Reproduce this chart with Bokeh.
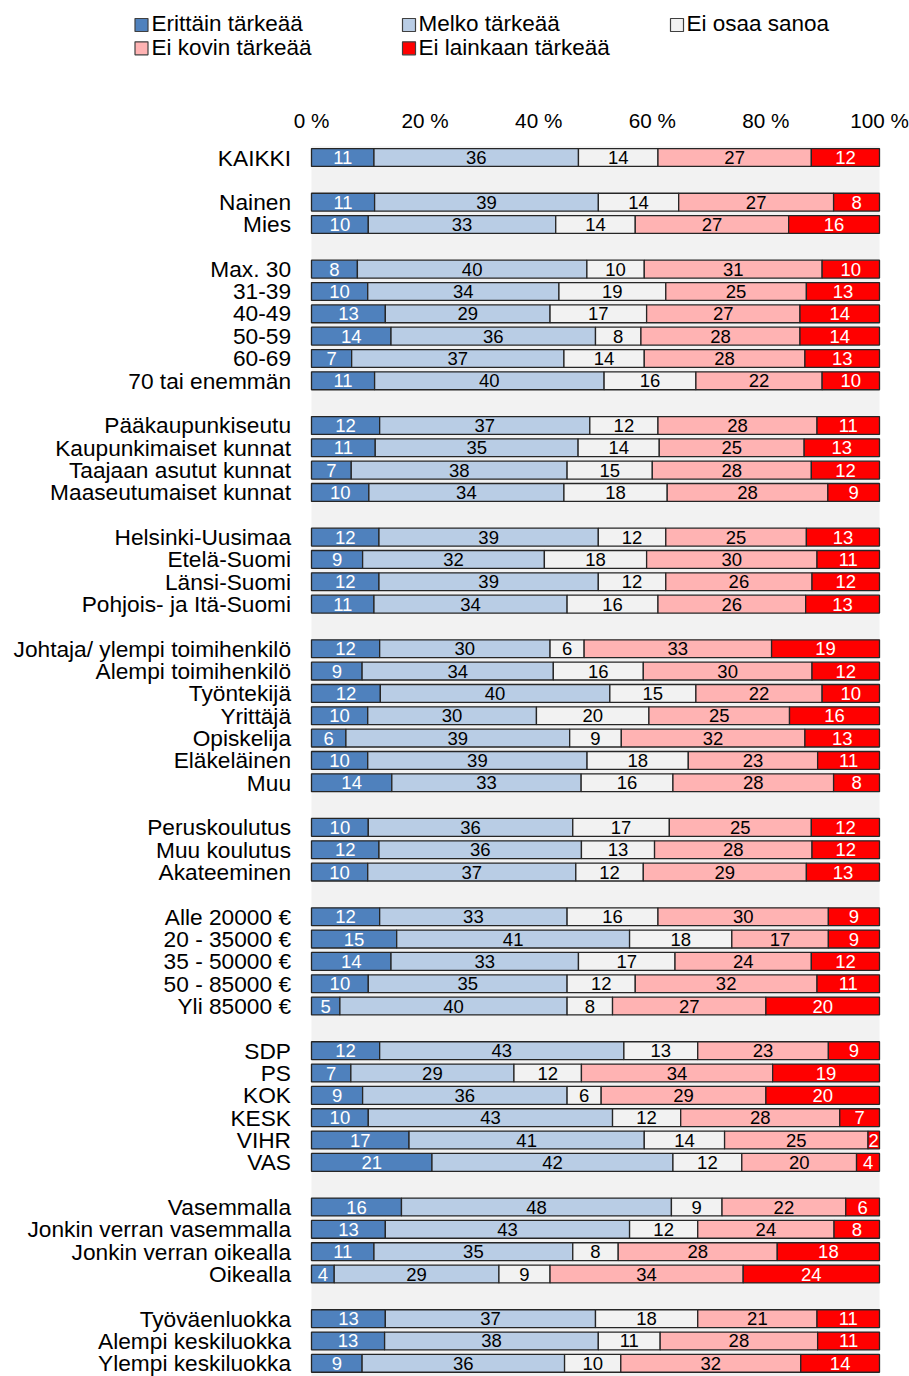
import numpy as np
from bokeh.plotting import figure
from bokeh.models import ColumnDataSource, Range1d
from bokeh.core.properties import value
from bokeh.embed import file_html
from bokeh.resources import INLINE

# ---------------- data ----------------
categories = [
    "KAIKKI",
    "Nainen", "Mies",
    "Max. 30", "31-39", "40-49", "50-59", "60-69", "70 tai enemmän",
    "Pääkaupunkiseutu", "Kaupunkimaiset kunnat", "Taajaan asutut kunnat", "Maaseutumaiset kunnat",
    "Helsinki-Uusimaa", "Etelä-Suomi", "Länsi-Suomi", "Pohjois- ja Itä-Suomi",
    "Johtaja/ ylempi toimihenkilö", "Alempi toimihenkilö", "Työntekijä", "Yrittäjä",
    "Opiskelija", "Eläkeläinen", "Muu",
    "Peruskoulutus", "Muu koulutus", "Akateeminen",
    "Alle 20000 €", "20 - 35000 €", "35 - 50000 €", "50 - 85000 €", "Yli 85000 €",
    "SDP", "PS", "KOK", "KESK", "VIHR", "VAS",
    "Vasemmalla", "Jonkin verran vasemmalla", "Jonkin verran oikealla", "Oikealla",
    "Työväenluokka", "Alempi keskiluokka", "Ylempi keskiluokka",
]
group_sizes = [1, 2, 6, 4, 4, 7, 3, 5, 6, 4, 3]

erittain = [11, 11, 10, 8, 10, 13, 14, 7, 11, 12, 11, 7, 10, 12, 9, 12, 11,
            12, 9, 12, 10, 6, 10, 14, 10, 12, 10, 12, 15, 14, 10, 5,
            12, 7, 9, 10, 17, 21, 16, 13, 11, 4, 13, 13, 9]
melko = [36, 39, 33, 40, 34, 29, 36, 37, 40, 37, 35, 38, 34, 39, 32, 39, 34,
         30, 34, 40, 30, 39, 39, 33, 36, 36, 37, 33, 41, 33, 35, 40,
         43, 29, 36, 43, 41, 42, 48, 43, 35, 29, 37, 38, 36]
ei_osaa = [14, 14, 14, 10, 19, 17, 8, 14, 16, 12, 14, 15, 18, 12, 18, 12, 16,
           6, 16, 15, 20, 9, 18, 16, 17, 13, 12, 16, 18, 17, 12, 8,
           13, 12, 6, 12, 14, 12, 9, 12, 8, 9, 18, 11, 10]
ei_kovin = [27, 27, 27, 31, 25, 27, 28, 28, 22, 28, 25, 28, 28, 25, 30, 26, 26,
            33, 30, 22, 25, 32, 23, 28, 25, 28, 29, 30, 17, 24, 32, 27,
            23, 34, 29, 28, 25, 20, 22, 24, 28, 34, 21, 28, 32]
ei_lainkaan = [12, 8, 16, 10, 13, 14, 14, 13, 10, 11, 13, 12, 9, 13, 11, 12, 13,
               19, 12, 10, 16, 13, 11, 8, 12, 12, 13, 9, 9, 12, 11, 20,
               9, 19, 20, 7, 2, 4, 6, 8, 18, 24, 11, 11, 14]

series_names = ["Erittäin tärkeää", "Melko tärkeää", "Ei osaa sanoa",
                "Ei kovin tärkeää", "Ei lainkaan tärkeää"]
series_values = [erittain, melko, ei_osaa, ei_kovin, ei_lainkaan]
colors = ["#4f81bd", "#b9cde5", "#f2f2f2", "#ffb3b3", "#ff0000"]
label_colors = ["#ffffff", "#000000", "#000000", "#000000", "#ffffff"]

tick_values = [0, 20, 40, 60, 80, 100]
tick_labels = ["0 %", "20 %", "40 %", "60 %", "80 %", "100 %"]

# ---------------- layout (pixels) ----------------
W, H = 909, 1376
X0_PX = 311.0          # pixel of 0 %
X_SCALE = 5.68         # pixels per percent
Y0_PX = 157.0          # pixel of first row centre
SLOT_PX = 22.33        # pixels per row slot
FONT = value("Liberation Sans")

def fx(px):
    return (px - X0_PX) / X_SCALE

def fy(px):
    return (px - Y0_PX) / SLOT_PX

# slot positions (with an empty slot between groups)
slots = []
s = 0
for g in group_sizes:
    for _ in range(g):
        slots.append(s)
        s += 1
    s += 1
slots = np.array(slots, dtype=float)
n_slots = s - 1

vals = np.array(series_values, dtype=float)          # (5, n)
totals = vals.sum(axis=0)
pct = vals / totals * 100.0
cum = np.cumsum(pct, axis=0)
starts = cum - pct

p = figure(width=W, height=H,
           x_range=Range1d(fx(0), fx(W)),
           y_range=Range1d(fy(H), fy(0)),
           x_axis_location=None, y_axis_location=None,
           toolbar_location=None, output_backend="svg",
           min_border=0, outline_line_color=None,
           background_fill_color="white", border_fill_color="white")
p.xgrid.grid_line_color = None
p.ygrid.grid_line_color = None

# plot-area background
p.quad(left=[tick_values[0]], right=[tick_values[-1]], top=[-0.5], bottom=[n_slots + 1.5],
       fill_color="#f2f2f2", line_color=None)

# stacked bars and labels
for j in range(len(series_names)):
    src = ColumnDataSource(dict(
        y=slots, left=starts[j], right=cum[j],
        mid=(starts[j] + cum[j]) / 2.0,
        txt=[str(v) for v in series_values[j]],
    ))
    p.hbar(y="y", left="left", right="right", height=0.8, source=src,
           fill_color=colors[j], line_color="#262626", line_width=1.3)
    p.text(x="mid", y="y", text="txt", source=src,
           text_align="center", text_baseline="alphabetic", y_offset=0,
           text_font=FONT, text_font_size="18.5px", text_color=label_colors[j])

# category labels
cat_src = ColumnDataSource(dict(x=[fx(290.5)] * len(categories), y=slots, t=categories))
p.text(x="x", y="y", text="t", source=cat_src, text_align="right",
       text_baseline="alphabetic", y_offset=0, text_font=FONT,
       text_font_size="22.7px", text_color="#000000")

# percent tick labels at top
tick_src = ColumnDataSource(dict(x=tick_values, y=[fy(119.5)] * len(tick_values), t=tick_labels))
p.text(x="x", y="y", text="t", source=tick_src, text_align="center",
       text_baseline="alphabetic", text_font=FONT, text_font_size="20.7px",
       text_color="#000000")

# legend (manual, two rows)
leg_sq_x = [141, 408.5, 676.5, 141, 408.5]
leg_sq_y = [24.5, 24.5, 24.5, 47.8, 47.8]
leg_tx_x = [151, 418, 686, 151, 418]
leg_tx_y = [23.3, 23.3, 23.3, 46.8, 46.8]
leg_src = ColumnDataSource(dict(
    sx=[fx(v) for v in leg_sq_x], sy=[fy(v) for v in leg_sq_y],
    tx=[fx(v) for v in leg_tx_x], ty=[fy(v) for v in leg_tx_y],
    c=colors, t=series_names))
p.scatter(x="sx", y="sy", source=leg_src, marker="square", size=13,
          fill_color="c", line_color="#404040", line_width=1.2)
p.text(x="tx", y="ty", text="t", source=leg_src, text_align="left",
       text_baseline="alphabetic", text_font=FONT, text_font_size="22.5px",
       text_color="#000000")

open("out.html", "w").write(file_html(p, INLINE))
